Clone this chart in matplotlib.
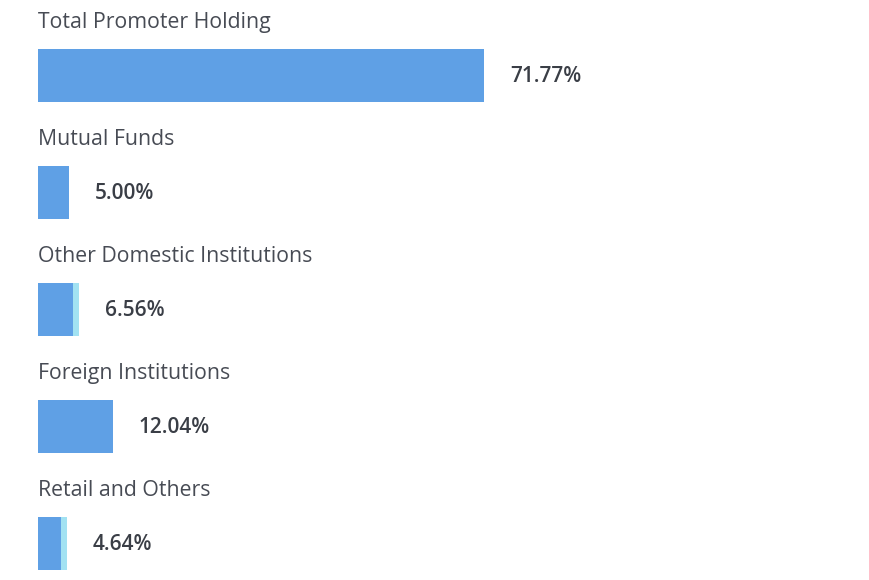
import matplotlib
matplotlib.use("Agg")
import matplotlib.pyplot as plt

# dane
categories = ["Total Promoter Holding", "Mutual Funds", "Other Domestic Institutions",
              "Foreign Institutions", "Retail and Others"]
values = [71.77, 5.00, 6.56, 12.04, 4.64]
main_part = [71.77, 5.00, 5.56, 12.04, 3.64]
extra_part = [0.00, 0.00, 1.00, 0.00, 1.00]
value_labels = ["71.77%", "5.00%", "6.56%", "12.04%", "4.64%"]

dark_blue = "#5FA0E5"
light_blue = "#A2E2F2"
label_col = "#474b54"
value_col = "#3a3e46"

W, H = 870, 580
fig = plt.figure(figsize=(W / 100, H / 100), dpi=100)
ax = fig.add_axes([0, 0, 1, 1])

# skala: 71.77% -> 446 px, poczatek slupkow na 38 px
px_per_pct = 446 / 71.77
left_px = 38
ax.set_xlim(-left_px / px_per_pct, (W - left_px) / px_per_pct)
step_px = 117
first_px = 75.5
ax.set_ylim((H - first_px) / step_px, -first_px / step_px)

pos = list(range(len(categories)))
ax.barh(pos, main_part, height=0.455, color=dark_blue, left=0)
ax.barh(pos, extra_part, height=0.455, color=light_blue, left=main_part)

gap = 26 / px_per_pct
for i, (cat, v, lab) in enumerate(zip(categories, values, value_labels)):
    ax.text(0, i - 0.455, cat, fontsize=15.3, family="Open Sans", weight="medium",
            color=label_col, va="center", ha="left")
    ax.text(v + gap, i + 0.01, lab, fontsize=15, family="Open Sans", weight="semibold",
            color=value_col, va="center", ha="left")

ax.axis("off")
fig.savefig("out.png", dpi=100, facecolor="white")
